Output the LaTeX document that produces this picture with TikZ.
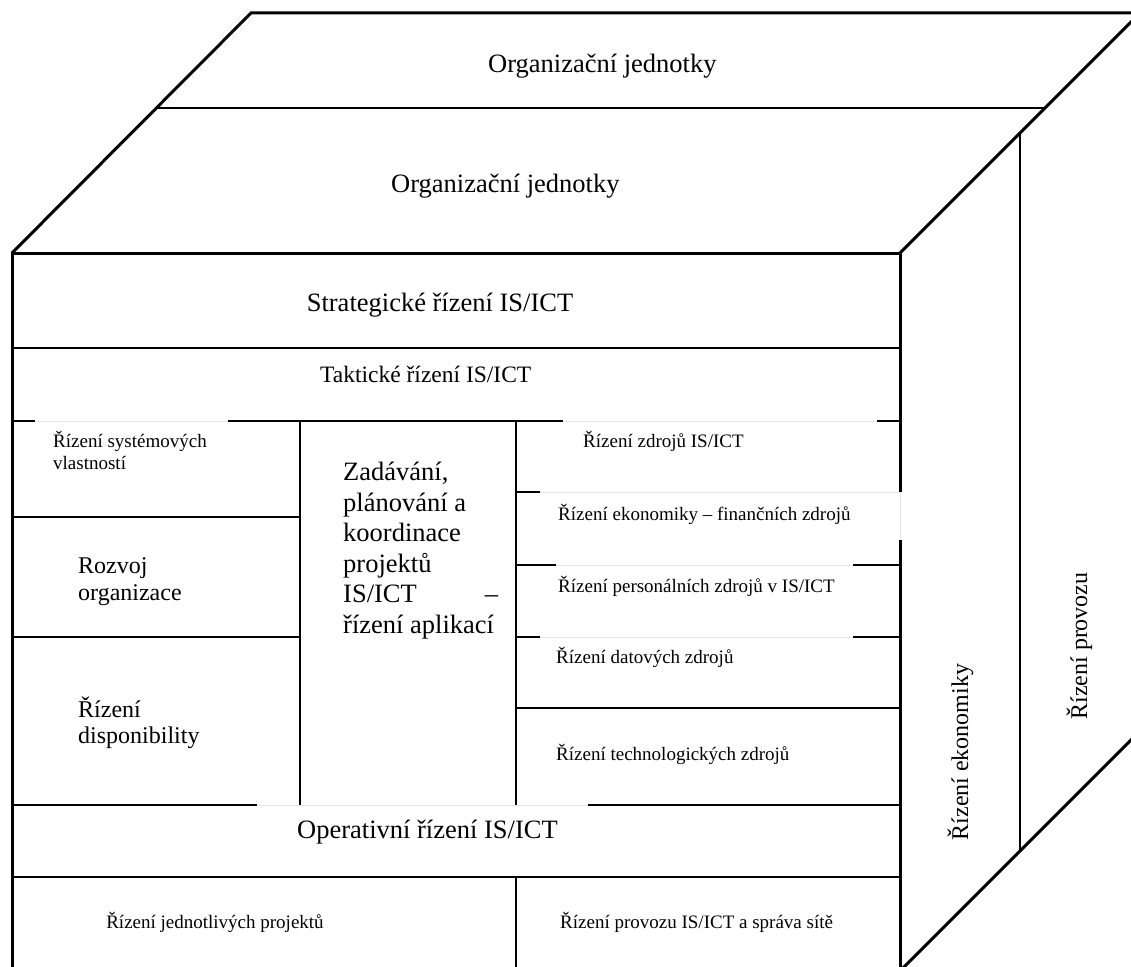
\documentclass[tikz,border=0pt]{standalone}
\usepackage{fontspec}
\setmainfont{Liberation Serif}
\begin{document}
\begin{tikzpicture}[x=1pt,y=-1pt,
  edge/.style={line width=3pt},
  inner/.style={line width=2.8pt},
  hair/.style={line width=1.4pt},
  side/.style={line width=2pt},
  faint/.style={line width=1pt, black!10},
  big/.style={font=\fontsize{26.5}{30.6}\selectfont, inner sep=0pt},
  mid/.style={font=\fontsize{24}{27}\selectfont, inner sep=0pt},
  small/.style={font=\fontsize{19}{22}\selectfont, inner sep=0pt},
  ]
\useasboundingbox (0,0) rectangle (1131,966);
\clip (0,0) rectangle (1131,966);

% top face of the cube
\draw[edge, line join=miter] (12,253) -- (251,13) -- (1140,13) -- (900,253);
\draw[side] (157,108) -- (1045,108);

% right face of the cube
\draw[side] (1020,133) -- (1020,851);
\draw[edge] (1140,731) -- (895,976);

% front face outline
\draw[edge, line join=miter] (12,975) -- (12,253) -- (900,253) -- (900,492);
\draw[edge] (900,540) -- (900,975);
\draw[faint] (900,492) -- (900,540);

% strategic / tactical bands
\draw[inner] (12,348) -- (300,348);
\draw[hair] (300,348) -- (733,348);
\draw[inner] (733,348) -- (900,348);

\draw[inner] (12,421) -- (35,421);
\draw[faint] (35,421) -- (228,421);
\draw[inner] (228,421) -- (563,421);
\draw[faint] (563,421) -- (877,421);
\draw[inner] (877,421) -- (900,421);

% columns
\draw[inner] (300,421) -- (300,805);
\draw[inner] (516,421) -- (516,805);

% left column rows
\draw[inner] (12,517) -- (300,517);
\draw[inner] (12,637) -- (300,637);

% right column rows
\draw[inner] (516,492) -- (540,492);
\draw[faint] (540,492) -- (900,492);
\draw[inner] (516,565) -- (556,565);
\draw[faint] (556,565) -- (853,565);
\draw[inner] (853,565) -- (900,565);
\draw[inner] (516,637) -- (540,637);
\draw[faint] (540,637) -- (853,637);
\draw[inner] (853,637) -- (900,637);
\draw[inner] (516,708) -- (900,708);

% operative band
\draw[inner] (12,805) -- (257,805);
\draw[faint] (257,805) -- (588,805);
\draw[inner] (588,805) -- (900,805);
\draw[inner] (12,877) -- (900,877);
\draw[inner] (516,877) -- (516,975);

% labels
\node[big, anchor=base west] (orgtop) at (488,72) {Organizační jednotky};
\node[big, anchor=base west] (orgfront) at (391,192) {Organizační jednotky};
\node[big, anchor=base] (strat) at (440,311) {Strategické řízení IS/ICT};
\node[font=\fontsize{23.5}{27}\selectfont, inner sep=0pt, anchor=base west] (takt) at (320,382) {Taktické řízení IS/ICT};

\node[small, anchor=base west] (sys1) at (53,447) {Řízení systémových};
\node[small, anchor=base west] (sys2) at (53,469) {vlastností};
\node[mid, anchor=base west] (roz1) at (78,573) {Rozvoj};
\node[mid, anchor=base west] (roz2) at (78,600) {organizace};
\node[mid, anchor=base west] (dis1) at (78,717) {Řízení};
\node[mid, anchor=base west] (dis2) at (78,743) {disponibility};

\node[big, anchor=base west] (zad1) at (343,480) {Zadávání,};
\node[big, anchor=base west] (zad2) at (343,511) {plánování a};
\node[big, anchor=base west] (zad3) at (343,541) {koordinace};
\node[big, anchor=base west] (zad4) at (343,572) {projektů};
\node[big, anchor=base west] (zad5) at (343,602) {\hbox to 155pt{IS/ICT\hfill –}};
\node[big, anchor=base west] (zad6) at (343,633) {řízení aplikací};

\node[small, anchor=base west] (zdr) at (583,447) {Řízení zdrojů IS/ICT};
\node[small, anchor=base west] (fin) at (558,520) {Řízení ekonomiky – finančních zdrojů};
\node[small, anchor=base west] (pers) at (558,592) {Řízení personálních zdrojů v IS/ICT};
\node[small, anchor=base west] (dat) at (556,663) {Řízení datových zdrojů};
\node[small, anchor=base west] (tech) at (556,760) {Řízení technologických zdrojů};

\node[big, anchor=base west] (oper) at (297,838) {Operativní řízení IS/ICT};
\node[small, anchor=base] (proj) at (215,928) {Řízení jednotlivých projektů};
\node[small, anchor=base west] (prov) at (560,928) {Řízení provozu IS/ICT a správa sítě};

\node[mid, anchor=base, rotate=90] (ekon) at (968,752) {Řízení ekonomiky};
\node[mid, anchor=base, rotate=90] (provoz) at (1087,646) {Řízení provozu};
\end{tikzpicture}
\end{document}
